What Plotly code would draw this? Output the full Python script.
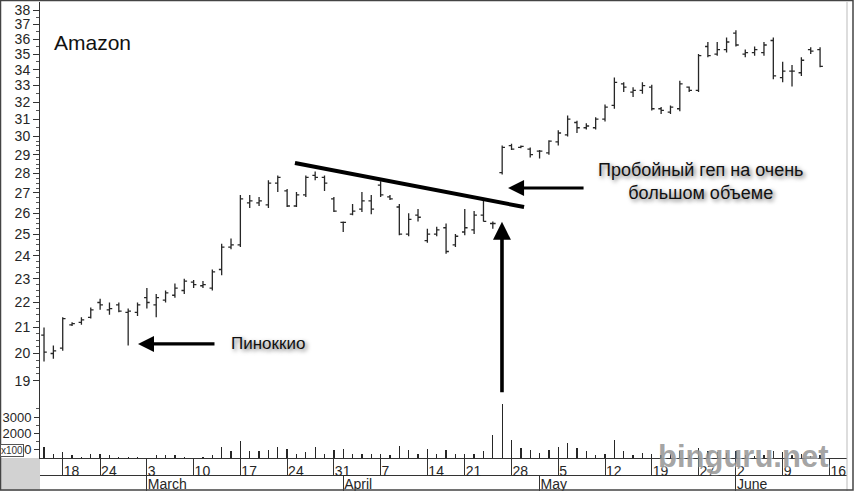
import numpy as np
import plotly.graph_objects as go

# ---------------- data ----------------
dates = [
    "2003-02-13", "2003-02-14", "2003-02-18", "2003-02-19", "2003-02-20", "2003-02-21",
    "2003-02-24", "2003-02-25", "2003-02-26", "2003-02-27", "2003-02-28",
    "2003-03-03", "2003-03-04", "2003-03-05", "2003-03-06", "2003-03-07",
    "2003-03-10", "2003-03-11", "2003-03-12", "2003-03-13", "2003-03-14",
    "2003-03-17", "2003-03-18", "2003-03-19", "2003-03-20", "2003-03-21",
    "2003-03-24", "2003-03-25", "2003-03-26", "2003-03-27", "2003-03-28",
    "2003-03-31", "2003-04-01", "2003-04-02", "2003-04-03", "2003-04-04",
    "2003-04-07", "2003-04-08", "2003-04-09", "2003-04-10", "2003-04-11",
    "2003-04-14", "2003-04-15", "2003-04-16", "2003-04-17",
    "2003-04-21", "2003-04-22", "2003-04-23", "2003-04-24", "2003-04-25",
    "2003-04-28", "2003-04-29", "2003-04-30", "2003-05-01", "2003-05-02",
    "2003-05-05", "2003-05-06", "2003-05-07", "2003-05-08", "2003-05-09",
    "2003-05-12", "2003-05-13", "2003-05-14", "2003-05-15", "2003-05-16",
    "2003-05-19", "2003-05-20", "2003-05-21", "2003-05-22", "2003-05-23",
    "2003-05-27", "2003-05-28", "2003-05-29", "2003-05-30",
    "2003-06-02", "2003-06-03", "2003-06-04", "2003-06-05", "2003-06-06",
    "2003-06-09", "2003-06-10", "2003-06-11", "2003-06-12", "2003-06-13",
]

open_ = [20.7, 20.0, 20.2, 21.1, 21.2, 21.4, 22.0, 21.7, 21.9, 21.6, 21.6,
         22.2, 21.9, 22.1, 22.3, 22.5, 22.85, 22.7, 22.6, 23.4, 24.4,
         24.5, 26.5, 26.5, 26.4, 27.5, 27.1, 26.35, 26.9, 27.9, 27.8,
         26.7, 25.55, 25.95, 26.2, 26.6, 27.4, 26.8, 26.3, 25.0, 25.9,
         24.7, 25.0, 25.3, 24.5, 25.1, 25.2, 25.9, 25.5, 28.05,
         29.5, 29.4, 29.3, 29.2, 29.1, 29.7, 30.1, 30.8, 30.5, 30.5,
         31.0, 31.8, 33.1, 32.6, 32.7, 32.9, 31.6, 31.4, 31.6, 32.9,
         32.7, 35.5, 35.0, 35.3, 36.4, 35.0, 35.1, 35.1, 35.9,
         33.5, 33.9, 33.8, 35.3, 35.3]
high = [21.0, 20.3, 21.4, 21.2, 21.4, 21.8, 22.15, 22.0, 22.0, 21.75, 22.0,
        22.6, 22.35, 22.5, 22.8, 23.0, 22.95, 22.9, 23.4, 24.55, 24.8,
        26.9, 26.9, 26.8, 27.65, 27.9, 27.2, 27.05, 27.9, 28.1, 27.9,
        26.8, 25.6, 26.45, 27.05, 26.9, 27.6, 26.9, 26.45, 26.0, 26.2,
        25.25, 25.35, 25.5, 25.0, 26.2, 26.1, 26.7, 25.6, 29.5,
        29.6, 29.5, 29.4, 29.25, 29.8, 30.35, 31.2, 30.9, 30.75, 31.1,
        31.85, 33.5, 33.2, 32.9, 33.2, 33.05, 31.7, 31.8, 33.3, 32.95,
        35.0, 35.8, 35.8, 36.1, 36.6, 35.3, 35.5, 35.8, 36.1,
        34.5, 34.3, 34.8, 35.45, 35.45]
low = [19.7, 19.8, 20.1, 21.05, 21.1, 21.35, 21.7, 21.5, 21.6, 20.3, 21.45,
       21.75, 21.4, 22.0, 22.2, 22.35, 22.6, 22.6, 22.5, 23.15, 24.3,
       24.4, 26.25, 26.35, 26.25, 27.05, 26.3, 26.3, 26.8, 27.65, 27.1,
       26.05, 25.1, 25.9, 26.05, 25.95, 26.8, 26.65, 24.95, 24.9, 25.6,
       24.6, 24.9, 24.1, 24.4, 24.95, 25.0, 25.6, 25.25, 27.95,
       29.25, 29.35, 28.85, 28.8, 29.0, 29.5, 30.0, 30.2, 30.4, 30.4,
       30.85, 31.6, 32.6, 32.3, 32.5, 31.5, 31.3, 31.3, 31.45, 32.6,
       32.6, 34.8, 34.9, 35.1, 35.5, 34.8, 34.9, 34.9, 33.4,
       33.2, 32.95, 33.6, 35.0, 34.15]
close = [20.05, 20.1, 21.35, 21.15, 21.3, 21.7, 21.9, 21.75, 21.65, 21.65, 21.9,
         22.0, 22.2, 22.4, 22.6, 22.9, 22.75, 22.75, 23.3, 24.4, 24.5,
         26.7, 26.6, 26.6, 27.5, 27.8, 26.35, 26.9, 27.8, 27.8, 27.5,
         26.1, 25.55, 26.1, 26.6, 26.2, 26.9, 26.7, 25.0, 25.7, 25.8,
         25.0, 25.2, 24.2, 24.9, 25.3, 25.9, 25.6, 25.5, 29.4,
         29.3, 29.45, 29.0, 29.2, 29.75, 30.2, 31.0, 30.5, 30.6, 31.0,
         31.7, 33.2, 32.9, 32.7, 33.0, 31.6, 31.5, 31.7, 33.1, 32.7,
         34.9, 34.9, 35.3, 35.8, 35.6, 35.1, 35.3, 35.6, 33.6,
         33.9, 33.9, 34.6, 35.2, 34.2]
volume = [1170, 745, 885, 660, 540, 765, 765, 660, 540, 560, 580,
          520, 660, 660, 660, 580, 520, 540, 660, 1170, 945,
          1515, 945, 945, 1010, 1150, 1070, 765, 845, 1170, 745,
          1010, 1050, 765, 765, 765, 765, 660, 1250, 1010, 765,
          1070, 765, 1010, 765, 745, 765, 905, 1880, 3790,
          1620, 1110, 1010, 805, 1010, 1150, 1415, 1110, 905, 700,
          745, 1575, 905, 700, 805, 760, 700, 720, 900, 700,
          1100, 950, 850, 800, 900, 700, 650, 700, 950,
          850, 700, 750, 650, 700]

week_tick_dates = ["2003-02-18", "2003-02-24", "2003-03-03", "2003-03-10", "2003-03-17",
                   "2003-03-24", "2003-03-31", "2003-04-07", "2003-04-14", "2003-04-21",
                   "2003-04-28", "2003-05-05", "2003-05-12", "2003-05-19", "2003-05-27",
                   "2003-06-02", "2003-06-09"]
week_tick_labels = ["18", "24", "3", "10", "17", "24", "31", "7", "14", "21",
                    "28", "5", "12", "19", "27", "2", "9", "16"]
month_tick_dates = ["2003-03-03", "2003-04-01", "2003-05-01", "2003-06-02"]
month_tick_labels = ["March", "April", "May", "June"]

price_ticks = list(range(19, 39))
volume_ticks = [1000, 2000, 3000]
volume_minor = [1500, 2500, 3500]

# ---------------- derived ----------------
xi = list(range(len(dates)))
week_idx = [dates.index(d) for d in week_tick_dates] + [len(dates)]  # next Monday (16 June)
month_idx = [dates.index(d) for d in month_tick_dates]

price_minor = [v / 4 for v in range(19 * 4, 30 * 4) if v % 4] + \
              [v / 2 for v in range(30 * 2, 38 * 2) if v % 2]

W, H = 854, 491
ML, MR, MT, MB = 40, 7, 2, 0
PW, PH = W - ML - MR, H - MT - MB
XR = [-0.43, 85.88]


def py(px):
    """pixel row -> paper y"""
    return (H - MB - px) / PH


def pxx(px):
    """pixel column -> paper x"""
    return (px - ML) / PW


FONT = "Liberation Sans, Arial, Helvetica, sans-serif"
INK = "#262626"

fig = go.Figure()
fig.add_trace(go.Ohlc(
    x=xi, open=open_, high=high, low=low, close=close,
    increasing=dict(line=dict(color=INK, width=1.3)),
    decreasing=dict(line=dict(color=INK, width=1.3)),
    tickwidth=0.3, xaxis="x", yaxis="y", showlegend=False, hoverinfo="skip"))
fig.add_trace(go.Bar(
    x=xi, y=volume, width=0.14, marker=dict(color=INK, line=dict(width=0)),
    xaxis="x2", yaxis="y2", showlegend=False, hoverinfo="skip"))
fig.add_trace(go.Scatter(x=[], y=[], xaxis="x3", yaxis="y2", showlegend=False))

vol_top_px, vol_bot_px = 393, 458
price_top, price_bot_px = 38.58, vol_top_px
logtop = np.log10(price_top)
logbot = logtop - (price_bot_px - MT) / (535 * np.log(10))

common_x = dict(range=XR, showgrid=False, zeroline=False, automargin=False)
fig.update_layout(
    width=W, height=H,
    margin=dict(l=ML, r=MR, t=MT, b=MB, autoexpand=False),
    paper_bgcolor="white", plot_bgcolor="white",
    font=dict(family=FONT, color=INK),
    bargap=0,
    xaxis=dict(domain=[0, 1], anchor="y", showticklabels=False, ticks="",
               showline=False, rangeslider=dict(visible=False), **common_x),
    xaxis2=dict(domain=[0, 1], anchor="y2", matches="x", tickmode="array",
                tickvals=week_idx, ticktext=week_tick_labels,
                ticks="outside", ticklen=17, tickwidth=1, tickcolor="#333",
                showline=True, linecolor="#333", linewidth=1,
                ticklabelposition="outside right", ticklabelshift=0,
                ticklabelstandoff=0,
                tickfont=dict(size=14, color=INK), **common_x),
    xaxis3=dict(overlaying="x2", anchor="free", position=py(475), tickmode="array",
                tickvals=month_idx, ticktext=month_tick_labels,
                ticks="outside", ticklen=16, tickwidth=1, tickcolor="#333",
                showline=True, linecolor="#333", linewidth=1,
                ticklabelposition="outside right", ticklabelshift=0,
                ticklabelstandoff=-4,
                tickfont=dict(size=14, color=INK), **common_x),
    yaxis=dict(domain=[py(price_bot_px), 1], anchor="x", type="log",
               range=[logbot, logtop], tickmode="array", tickvals=price_ticks,
               ticktext=[str(v) for v in price_ticks],
               ticks="outside", ticklen=6, tickwidth=1, tickcolor="#333",
               showline=True, linecolor="#333", linewidth=1,
               minor=dict(tickvals=price_minor, ticks="outside", ticklen=3,
                          tickcolor="#555", tickwidth=1),
               showgrid=False, zeroline=False, automargin=False,
               tickfont=dict(size=14, color=INK)),
    yaxis2=dict(domain=[py(vol_bot_px), py(vol_top_px)], anchor="x2",
                range=[500, 500 + (vol_bot_px - vol_top_px) / 0.0164],
                tickmode="array", tickvals=volume_ticks,
                ticks="outside", ticklen=5, tickwidth=1, tickcolor="#333",
                showline=True, linecolor="#333", linewidth=1,
                minor=dict(tickvals=volume_minor, ticks="outside", ticklen=3,
                           tickcolor="#555", tickwidth=1),
                showgrid=False, zeroline=False, automargin=False,
                tickfont=dict(size=13, color=INK)),
)

shapes = [
    # grey corner under the volume axis
    dict(type="rect", xref="paper", yref="paper", x0=pxx(0), x1=0, y0=0, y1=py(458),
         fillcolor="#d2d2d2", line=dict(width=0), layer="below"),
    # right edge of plot
    dict(type="line", xref="paper", yref="paper", x0=1, x1=1, y0=0, y1=1,
         line=dict(color="#bbbbbb", width=1)),
    # outer frame
    dict(type="rect", xref="paper", yref="paper", x0=pxx(0.5), x1=pxx(853),
         y0=py(490), y1=py(0.5), line=dict(color="#444", width=1.5)),
    # trend line (data coordinates)
    dict(type="line", xref="x", yref="y", x0=26.84, y0=28.55, x1=51.34, y1=26.30,
         line=dict(color="black", width=4)),
]
fig.update_layout(shapes=shapes)

shadow = "2px 2px 4px rgba(0,0,0,0.6)"
ann = [
    dict(text="Amazon", xref="paper", yref="paper", x=pxx(52), y=py(42),
         xanchor="left", yanchor="middle", showarrow=False,
         font=dict(size=21, color="#111")),
    dict(text="Пиноккио", xref="paper", yref="paper", x=pxx(229), y=py(343),
         xanchor="left", yanchor="middle", showarrow=False,
         font=dict(size=17, color="#111", shadow=shadow)),
    dict(text="Пробойный геп на очень<br>большом объеме", xref="paper", yref="paper",
         x=pxx(700), y=py(181), xanchor="center", yanchor="middle", showarrow=False,
         align="center", font=dict(size=18, color="#111", shadow=shadow)),
    # arrows
    dict(text="", xref="x", yref="y", x=10.05, y=np.log10(20.36), showarrow=True,
         ax=78, ay=0, arrowhead=2, arrowsize=1, arrowwidth=3.2, arrowcolor="black"),
    dict(text="", xref="x", yref="y", x=49.63, y=np.log10(27.25), showarrow=True,
         ax=77, ay=0, arrowhead=2, arrowsize=1, arrowwidth=3.2, arrowcolor="black"),
    dict(text="", xref="x", yref="y", x=48.98, y=np.log10(25.58), showarrow=True,
         ax=0, ay=172, arrowhead=2, arrowsize=1, arrowwidth=3.6, arrowcolor="black"),
    # volume multiplier box
    dict(text="x100", xref="paper", yref="paper", x=pxx(0), y=py(450),
         xanchor="left", yanchor="middle", showarrow=False,
         font=dict(size=10, color="#333"), bgcolor="white",
         bordercolor="#555", borderwidth=1, borderpad=0),
    # watermark
    dict(text="<b>binguru.net</b>", xref="paper", yref="paper", x=pxx(743), y=py(456),
         xanchor="center", yanchor="middle", showarrow=False,
         font=dict(size=31, color="rgba(140,140,140,0.8)",
                   shadow="1px 1px 2px rgba(255,255,255,0.9)")),
]
fig.update_layout(annotations=ann)

fig.write_html("out.html",
               config={"displayModeBar": False, "staticPlot": True},
               post_script="document.body.style.margin='0';"
                           "document.body.style.overflow='hidden';")
